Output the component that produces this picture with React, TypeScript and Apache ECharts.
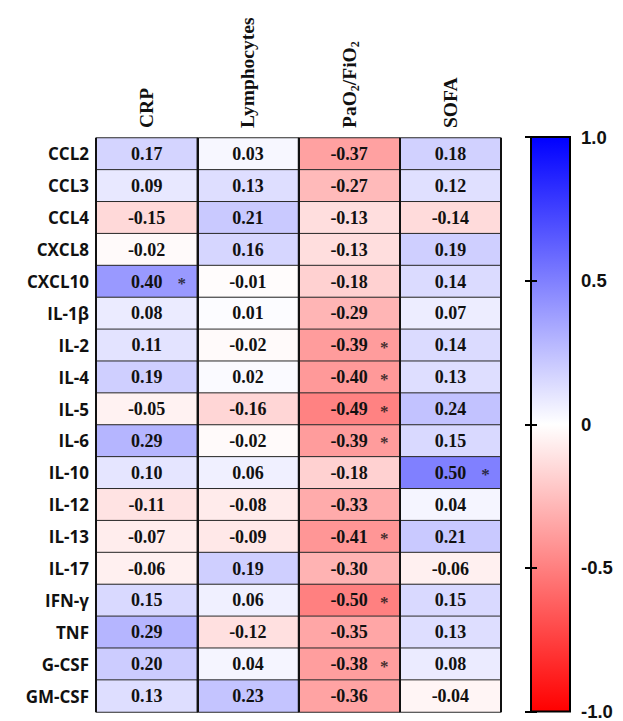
import React, { useEffect, useRef } from "react";
import * as echarts from "echarts";

const rowLabels = ["CCL2","CCL3","CCL4","CXCL8","CXCL10","IL-1β","IL-2","IL-4","IL-5","IL-6","IL-10","IL-12","IL-13","IL-17","IFN-γ","TNF","G-CSF","GM-CSF"];
const colLabels = ["CRP","Lymphocytes","PaO2/FiO2","SOFA"];

const crp = [0.17,0.09,-0.15,-0.02,0.40,0.08,0.11,0.19,-0.05,0.29,0.10,-0.11,-0.07,-0.06,0.15,0.29,0.20,0.13];
const lymphocytes = [0.03,0.13,0.21,0.16,-0.01,0.01,-0.02,0.02,-0.16,-0.02,0.06,-0.08,-0.09,0.19,0.06,-0.12,0.04,0.23];
const pao2fio2 = [-0.37,-0.27,-0.13,-0.13,-0.18,-0.29,-0.39,-0.40,-0.49,-0.39,-0.18,-0.33,-0.41,-0.30,-0.50,-0.35,-0.38,-0.36];
const sofa = [0.18,0.12,-0.14,0.19,0.14,0.07,0.14,0.13,0.24,0.15,0.50,0.04,0.21,-0.06,0.15,0.13,0.08,-0.04];

// significance flags (1 = marked with *)
const crpSig = [0,0,0,0,1,0,0,0,0,0,0,0,0,0,0,0,0,0];
const lymphSig = [0,0,0,0,0,0,0,0,0,0,0,0,0,0,0,0,0,0];
const paoSig = [0,0,0,0,0,0,1,1,1,1,0,0,1,0,1,0,1,0];
const sofaSig = [0,0,0,0,0,0,0,0,0,0,1,0,0,0,0,0,0,0];

const colorbarTicks = [-1, -0.5, 0, 0.5, 1];

export default function App() {
  const ref = useRef<HTMLDivElement>(null);
  useEffect(() => {
    if (!ref.current) return;
    const chart = echarts.init(ref.current, null, { renderer: "svg" });
    const cols = [crp, lymphocytes, pao2fio2, sofa];
    const sigs = [crpSig, lymphSig, paoSig, sofaSig];
    const heat: number[][] = [];
    const stars: number[][] = [];
    cols.forEach((arr, ci) => {
      arr.forEach((v, ri) => {
        heat.push([ci, ri, v]);
        if (sigs[ci][ri]) stars.push([ci, ri]);
      });
    });
    const serif = "'Liberation Serif', 'Times New Roman', serif";
    const sans = "'Liberation Sans', Arial, sans-serif";
    chart.setOption({
      animation: false,
      backgroundColor: "#ffffff",
      grid: [
        { left: 96, top: 138, width: 405, height: 574 },
        {
          left: 531, top: 137, width: 39, height: 578, show: true,
          borderColor: "#000", borderWidth: 2,
          backgroundColor: new echarts.graphic.LinearGradient(0, 0, 0, 1, [
            { offset: 0, color: "#0000ff" },
            { offset: 0.5, color: "#ffffff" },
            { offset: 1, color: "#ff0000" },
          ]),
        },
      ],
      xAxis: [
        {
          type: "category", gridIndex: 0, data: colLabels, position: "top",
          z: 5,
          axisLine: { show: false }, axisTick: { show: false },
          splitLine: { show: true, lineStyle: { color: "#111", width: 2 } },
          axisLabel: {
            rotate: -90, margin: 10, color: "#111", fontFamily: serif, fontWeight: "bold", fontSize: 19.5,
            formatter: (v: string) => v === "PaO2/FiO2" ? "{n|PaO}{s|2}{n|/FiO}{s|2}" : v,
            rich: {
              n: { fontFamily: serif, fontWeight: "bold", fontSize: 19.5, lineHeight: 24, color: "#111" },
              s: { fontFamily: serif, fontWeight: "bold", fontSize: 12, lineHeight: 12, verticalAlign: "bottom", color: "#111" },
            },
          },
        },
        { type: "value", gridIndex: 1, min: 0, max: 1, show: false },
      ],
      yAxis: [
        {
          type: "category", gridIndex: 0, data: rowLabels, inverse: true,
          axisLine: { show: false }, axisTick: { show: false }, splitLine: { show: false },
          axisLabel: { margin: 7, color: "#111", fontFamily: "'Open Sans', sans-serif", fontWeight: "bold", fontSize: 17 },
        },
        {
          type: "value", gridIndex: 1, min: -1, max: 1, interval: 0.5, position: "right",
          axisLine: { show: false }, splitLine: { show: false },
          axisTick: { show: true, inside: true, length: 6, lineStyle: { color: "#000", width: 2 } },
          axisLabel: {
            margin: 11, color: "#111", fontFamily: sans, fontWeight: "bold", fontSize: 18.5,
            formatter: (v: number) => (colorbarTicks.includes(v) ? (v === 0 ? "0" : v.toFixed(1)) : ""),
          },
        },
        {
          type: "value", gridIndex: 1, min: -1, max: 1, interval: 0.5, position: "left",
          axisLine: { show: false }, splitLine: { show: false }, axisLabel: { show: false },
          axisTick: { show: true, inside: true, length: 6, lineStyle: { color: "#000", width: 2 } },
        },
      ],
      visualMap: {
        type: "continuous", show: false, min: -1, max: 1, dimension: 2, seriesIndex: 0,
        inRange: { color: ["#ff0000", "#ffffff", "#0000ff"] },
      },
      series: [
        {
          type: "heatmap", xAxisIndex: 0, yAxisIndex: 0, data: heat,
          itemStyle: { borderColor: "#2a2a2a", borderWidth: 1 },
          label: {
            show: true, color: "#111", fontFamily: serif, fontWeight: "bold", fontSize: 18,
            formatter: (p: any) => p.data[2].toFixed(2),
          },
          emphasis: { disabled: true },
        },
        {
          type: "scatter", xAxisIndex: 0, yAxisIndex: 0, data: stars, symbolSize: 0, z: 6,
          label: {
            show: true, position: "inside", offset: [35, 2], formatter: "*",
            color: "#111", fontFamily: serif, fontWeight: "bold", fontSize: 17,
          },
        },
      ],
    });
    return () => chart.dispose();
  }, []);
  return <div ref={ref} style={{ position: "absolute", left: 0, top: 0, width: 623, height: 721 }} />;
}
